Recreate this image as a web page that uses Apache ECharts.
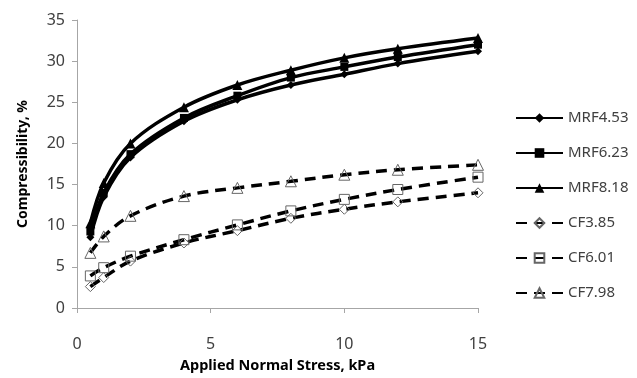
<!DOCTYPE html>
<html>
<head>
<meta charset="utf-8">
<script src="https://cdn.jsdelivr.net/npm/echarts@6/dist/echarts.min.js"></script>
<style>
  html, body { margin: 0; padding: 0; background: #fff; }
  #chart { width: 637px; height: 378px; }
</style>
</head>
<body>
<div id="chart"></div>
<script>
// applied normal stress, kPa
const stress = [0.5, 1, 2, 4, 6, 8, 10, 12, 15]

const mrf453 = [8.6, 13.5, 18.3, 22.7, 25.3, 27.1, 28.4, 29.7, 31.2]
const mrf623 = [9.3, 14.0, 18.7, 23.1, 25.8, 28.0, 29.3, 30.5, 32.0]
const mrf818 = [10.3, 15.2, 20.0, 24.4, 27.1, 28.9, 30.4, 31.5, 32.8]
const cf385 = [2.6, 3.7, 5.7, 7.9, 9.4, 10.9, 12.0, 12.9, 14.0]
const cf601 = [3.9, 4.9, 6.3, 8.3, 10.1, 11.8, 13.2, 14.4, 15.9]
const cf798 = [6.7, 8.7, 11.2, 13.6, 14.6, 15.4, 16.2, 16.8, 17.4]

const font = '"Noto Sans", sans-serif'

function pairs(ys) {
  return stress.map((x, i) => [x, ys[i]])
}

function solid(name, ys, symbol, size) {
  return {
    name: name,
    type: 'line',
    data: pairs(ys),
    smooth: 0.35,
    symbol: symbol,
    symbolSize: size,
    lineStyle: { color: '#000', width: 3.5 },
    itemStyle: { color: '#000' }
  }
}

function dashed(name, ys, symbol, size) {
  return {
    name: name,
    type: 'line',
    data: pairs(ys),
    smooth: 0.35,
    symbol: symbol,
    symbolSize: size,
    lineStyle: { color: '#000', width: 3.5, type: [11, 7] },
    itemStyle: { color: 'rgba(255,255,255,0)', borderColor: '#666', borderWidth: 1 }
  }
}

const chart = echarts.init(document.getElementById('chart'))

chart.setOption({
  animation: false,
  grid: { left: 77, right: 159, top: 20, bottom: 69 },
  legend: {
    orient: 'vertical',
    left: 510,
    top: 105,
    itemWidth: 47,
    itemHeight: 12,
    itemGap: 19,
    textStyle: { fontFamily: font, fontSize: 15, color: '#404040', lineHeight: 16 },
    data: ['MRF4.53', 'MRF6.23', 'MRF8.18', 'CF3.85', 'CF6.01', 'CF7.98']
  },
  xAxis: {
    type: 'value',
    min: 0,
    max: 15,
    interval: 5,
    name: 'Applied Normal Stress, kPa',
    nameLocation: 'middle',
    nameGap: 50,
    nameTextStyle: { fontFamily: font, fontSize: 14.5, fontWeight: 'bold', color: '#000' },
    axisLine: { lineStyle: { color: '#a6a6a6', width: 1 } },
    axisTick: { show: true, length: 5, lineStyle: { color: '#a6a6a6' } },
    axisLabel: { margin: 28, fontFamily: font, fontSize: 16, color: '#404040' },
    splitLine: { show: false }
  },
  yAxis: {
    type: 'value',
    min: 0,
    max: 35,
    interval: 5,
    name: 'Compressibility, %',
    nameLocation: 'middle',
    nameGap: 47,
    nameTextStyle: { fontFamily: font, fontSize: 14, fontWeight: 'bold', color: '#000' },
    axisLine: { show: true, lineStyle: { color: '#a6a6a6', width: 1 } },
    axisTick: { show: true, length: 5, lineStyle: { color: '#a6a6a6' } },
    axisLabel: { margin: 12, fontFamily: font, fontSize: 16, color: '#404040' },
    splitLine: { show: false }
  },
  series: [
    solid('MRF4.53', mrf453, 'diamond', 8),
    solid('MRF6.23', mrf623, 'rect', 8),
    solid('MRF8.18', mrf818, 'triangle', 10),
    dashed('CF3.85', cf385, 'diamond', 10),
    dashed('CF6.01', cf601, 'rect', 10),
    dashed('CF7.98', cf798, 'triangle', 11)
  ]
})
</script>
</body>
</html>
